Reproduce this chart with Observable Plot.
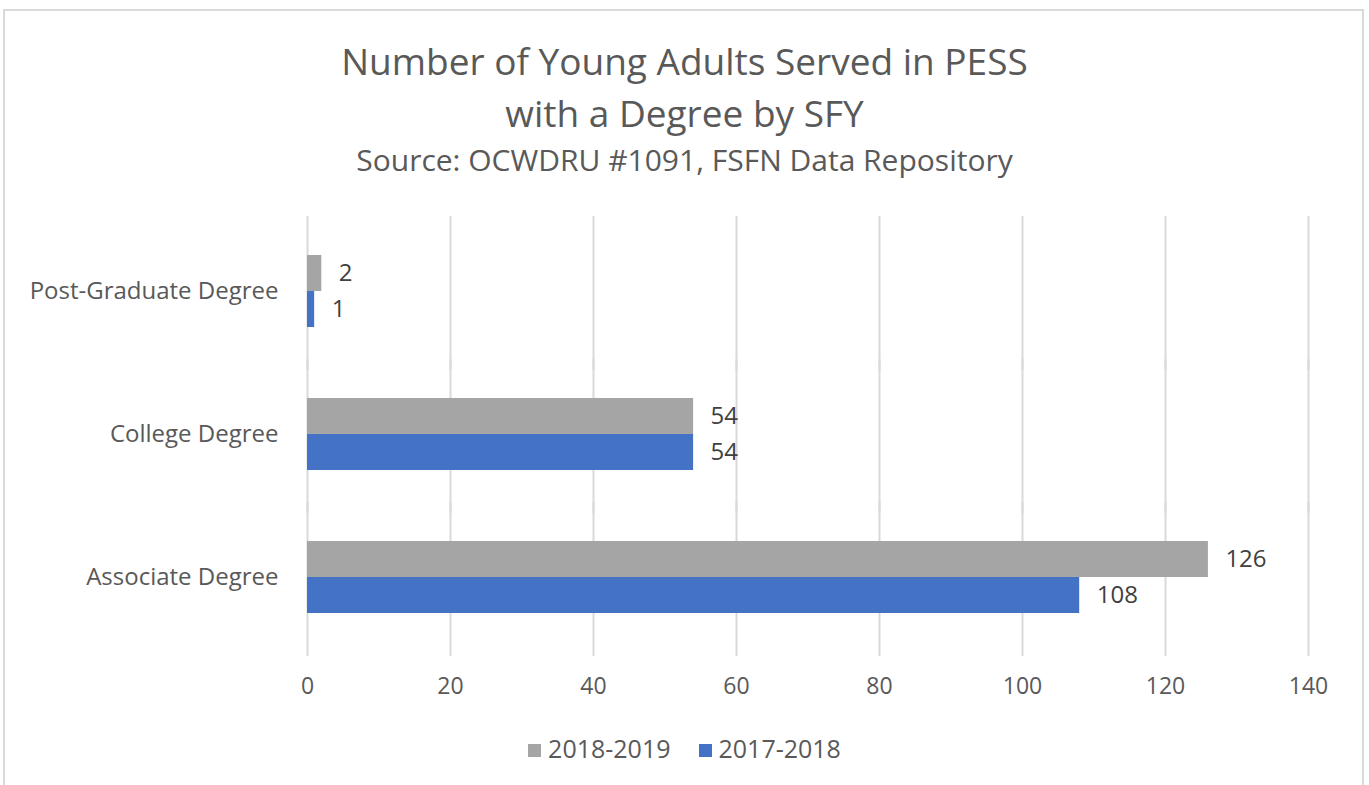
<!DOCTYPE html>
<html><head><meta charset="utf-8">
<script src="https://cdn.jsdelivr.net/npm/d3@7"></script>
<script src="https://cdn.jsdelivr.net/npm/@observablehq/plot@0.6"></script>
<style>
body{margin:0;background:#fff;font-family:"Open Sans",sans-serif;color:#595959;}
#wrap{position:relative;width:1369px;height:785px;overflow:hidden;}
#frame{position:absolute;left:3px;top:9px;width:1357px;height:800px;border:2px solid #d9d9d9;}
.t{position:absolute;left:0;width:1369px;text-align:center;white-space:nowrap;}
#chart{position:absolute;left:0;top:200px;}
#legend{position:absolute;top:731px;left:0;width:1369px;text-align:center;font-size:25px;}
#legend span.sw{display:inline-block;width:13px;height:13px;margin-right:7px;vertical-align:1px;}
#legend span.it{margin:0 14px;}
</style></head>
<body><div id="wrap"><div id="frame"></div>
<div class="t" style="top:35px;font-size:37px;">Number of Young Adults Served in PESS</div>
<div class="t" style="top:87px;font-size:37px;">with a Degree by SFY</div>
<div class="t" style="top:139px;font-size:30px;">Source: OCWDRU #1091, FSFN Data Repository</div>
<div id="chart"></div>
<div id="legend"></div>
</div>
<script>
const categories = ["Post-Graduate Degree", "College Degree", "Associate Degree"];
const series = ["2018-2019", "2017-2018"];
const values2018_2019 = [2, 54, 126];
const values2017_2018 = [1, 54, 108];
const colors = ["#a5a5a5", "#4472c4"];
const xTicks = [0, 20, 40, 60, 80, 100, 120, 140];

const data = [];
categories.forEach((c, i) => {
  data.push({category: c, series: series[0], value: values2018_2019[i]});
  data.push({category: c, series: series[1], value: values2017_2018[i]});
});

const chart = Plot.plot({
  width: 1369,
  height: 510,
  marginLeft: 307,
  marginRight: 61,
  marginTop: 18,
  marginBottom: 61,
  style: {fontFamily: "Open Sans, sans-serif", fontSize: "22px", color: "#595959", background: "transparent"},
  x: {domain: [0, 140], ticks: xTicks, label: null},
  y: {domain: series, paddingInner: 0, paddingOuter: 0.94, axis: null},
  fy: {domain: categories, padding: 0, label: null},
  color: {domain: series, range: colors},
  marks: [
    Plot.ruleX(xTicks, {stroke: "#d9d9d9", strokeWidth: 2, strokeOpacity: 1, insetTop: -3, insetBottom: -8}),
    Plot.barX(data, {fy: "category", y: "series", x: "value", fill: "series", insetTop: 0, insetBottom: 0}),
    Plot.text(data, {fy: "category", y: "series", x: "value", text: d => String(d.value), textAnchor: "start", dx: 17, fill: "#404040", fontSize: 24}),
    Plot.axisX({ticks: xTicks, tickSize: 0, tickPadding: 29, fontSize: 23, label: null, facetAnchor: "bottom"}),
    Plot.axisFy({anchor: "left", tickSize: 0, tickPadding: 29, fontSize: 24, label: null})
  ]
});
document.getElementById("chart").appendChild(chart);

const legend = document.getElementById("legend");
series.forEach((s, i) => {
  const it = document.createElement("span");
  it.className = "it";
  it.innerHTML = `<span class="sw" style="background:${colors[i]}"></span>${s}`;
  legend.appendChild(it);
});
</script>
</body></html>
